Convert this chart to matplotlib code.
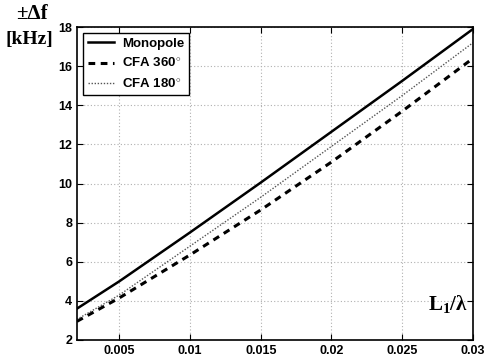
import matplotlib
matplotlib.use("Agg")
import matplotlib.pyplot as plt

# values
l_ratio = [0.002, 0.005, 0.01, 0.015, 0.02, 0.025, 0.03]
monopole = [3.6, 5.0, 7.5, 10.05, 12.65, 15.25, 17.9]
cfa_360 = [2.95, 4.15, 6.35, 8.65, 11.1, 13.7, 16.4]
cfa_180 = [3.05, 4.3, 6.8, 9.3, 11.9, 14.5, 17.2]

x_ticks = [0.005, 0.01, 0.015, 0.02, 0.025, 0.03]
x_tick_labels = ["0.005", "0.01", "0.015", "0.02", "0.025", "0.03"]
y_ticks = [2, 4, 6, 8, 10, 12, 14, 16, 18]

plt.rcParams["font.family"] = ["Liberation Sans", "DejaVu Sans"]
plt.rcParams["font.weight"] = "bold"
plt.rcParams["mathtext.fontset"] = "custom"
plt.rcParams["mathtext.rm"] = "Liberation Serif:bold"
plt.rcParams["mathtext.bf"] = "Liberation Serif:bold"
plt.rcParams["mathtext.it"] = "Liberation Serif:bold"

fig = plt.figure(figsize=(4.87, 3.62), dpi=100)
ax = fig.add_axes([0.158, 0.061, 0.813, 0.864])

ax.plot(l_ratio, monopole, color="black", lw=1.8, ls="-", label="Monopole")
ax.plot(l_ratio, cfa_360, color="black", lw=2.2, ls=(0, (2.2, 1.8)), label="CFA 360$^{\\circ}$")
ax.plot(l_ratio, cfa_180, color="#555555", lw=1.0, ls=(0, (1, 1.2)), label="CFA 180$^{\\circ}$")

ax.set_xlim(0.002, 0.03)
ax.set_ylim(2, 18)
ax.set_xticks(x_ticks)
ax.set_xticklabels(x_tick_labels)
ax.set_yticks(y_ticks)
ax.tick_params(direction="in", top=True, right=True, labelsize=9, length=4, width=0.8)
for lbl in ax.get_xticklabels() + ax.get_yticklabels():
    lbl.set_fontweight("bold")
ax.grid(True, color="#b0b0b0", ls=(0, (1, 2)), lw=0.8)
for sp in ax.spines.values():
    sp.set_linewidth(1.2)

leg = ax.legend(loc="upper left", fancybox=False, edgecolor="black", framealpha=1,
                prop={"weight": "bold", "size": 9.5}, handlelength=2.0,
                handletextpad=0.6, borderaxespad=0.45, labelspacing=0.55,
                borderpad=0.35)
leg.get_frame().set_linewidth(1.0)

serif = {"family": ["Liberation Serif", "DejaVu Serif"], "weight": "bold"}
fig.text(0.033, 0.99, "\u00b1\u0394f", fontsize=15, va="top", ha="left", **serif)
fig.text(0.012, 0.915, "[kHz]", fontsize=14, va="top", ha="left", **serif)
ax.text(0.0268, 3.3, "L$_{1}$/\u03bb", fontsize=15, ha="left", va="bottom", **serif)

fig.savefig("out.png", dpi=100)
